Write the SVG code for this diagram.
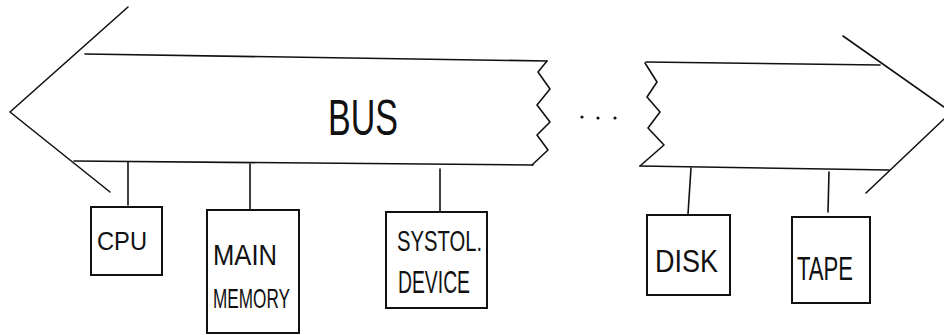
<svg xmlns="http://www.w3.org/2000/svg" width="944" height="335" viewBox="0 0 944 335">
  <style>
    .ln { fill: none; stroke: #111; stroke-width: 1.6; stroke-linecap: round; stroke-linejoin: round; }
    .box { fill: none; stroke: #111; stroke-width: 2; stroke-linejoin: miter; }
    .lbl { font-family: "Liberation Sans", "DejaVu Sans", sans-serif; fill: #111; }
  </style>
  <rect x="0" y="0" width="944" height="335" fill="#fff"/>

  <!-- bus drawn as a broken double-headed arrow -->
  <g id="bus">
    <!-- left segment -->
    <polyline class="ln" points="128,7 10,112 110,192"/>
    <polyline class="ln" points="85,54 547,61"/>
    <polyline class="ln" points="74,161 533,165"/>
    <polyline class="ln" points="547,61 538,72 550,89 537,105 550,122 537,135 548,150 532,165"/>
    <!-- gap -->
    <circle cx="582" cy="117" r="1.6" fill="#111"/>
    <circle cx="598" cy="118" r="1.6" fill="#111"/>
    <circle cx="615" cy="118" r="1.6" fill="#111"/>
    <!-- right segment -->
    <polyline class="ln" points="645,63 657,82 647,97 660,112 648,128 664,145 640,166"/>
    <polyline class="ln" points="646,62 880,65"/>
    <polyline class="ln" points="640,166 889,170"/>
    <polyline class="ln" points="843,36 944,107"/>
    <polyline class="ln" points="944,119 866,193"/>
    <text class="lbl" x="328" y="135" font-size="50" textLength="70" lengthAdjust="spacingAndGlyphs">BUS</text>
  </g>

  <!-- stems from the bus to each device -->
  <g id="connectors">
    <line class="ln" x1="128" y1="162" x2="128" y2="205"/>
    <line class="ln" x1="250" y1="164" x2="250" y2="210"/>
    <line class="ln" x1="440" y1="169" x2="440" y2="212"/>
    <line class="ln" x1="691" y1="168" x2="688" y2="214"/>
    <line class="ln" x1="829" y1="172" x2="828" y2="212"/>
  </g>

  <g id="cpu">
    <rect class="box" x="91" y="207" width="71" height="68"/>
    <text class="lbl" x="97" y="250" font-size="25" textLength="50" lengthAdjust="spacingAndGlyphs">CPU</text>
  </g>

  <g id="main-memory">
    <rect class="box" x="207" y="210" width="92" height="123"/>
    <text class="lbl" x="213" y="265" font-size="29" textLength="64" lengthAdjust="spacingAndGlyphs">MAIN</text>
    <text class="lbl" x="213" y="308" font-size="28" textLength="77" lengthAdjust="spacingAndGlyphs">MEMORY</text>
  </g>

  <g id="systolic-device">
    <rect class="box" x="386" y="212" width="101" height="96"/>
    <text class="lbl" x="397" y="251" font-size="30" textLength="85" lengthAdjust="spacingAndGlyphs">SYSTOL.</text>
    <text class="lbl" x="398" y="293" font-size="31" textLength="72" lengthAdjust="spacingAndGlyphs">DEVICE</text>
  </g>

  <g id="disk">
    <rect class="box" x="647" y="215" width="83" height="80"/>
    <text class="lbl" x="655" y="272" font-size="32" textLength="63" lengthAdjust="spacingAndGlyphs">DISK</text>
  </g>

  <g id="tape">
    <rect class="box" x="792" y="217" width="78" height="86"/>
    <text class="lbl" x="797" y="280" font-size="33" textLength="56" lengthAdjust="spacingAndGlyphs">TAPE</text>
  </g>
</svg>
